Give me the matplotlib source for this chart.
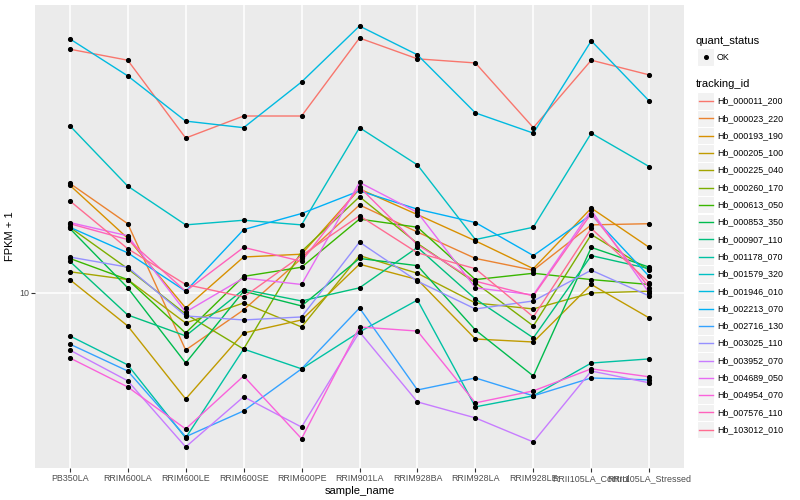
import matplotlib
matplotlib.use('Agg')
import matplotlib.pyplot as plt
from matplotlib.lines import Line2D
from matplotlib.patches import Rectangle
from matplotlib.ticker import NullLocator, FixedLocator, FixedFormatter
import numpy as np

plt.rcParams['font.family'] = ['Liberation Sans', 'DejaVu Sans']

samples = ["PB350LA", "RRIM600LA", "RRIM600LE", "RRIM600SE", "RRIM600PE",
           "RRIM901LA", "RRIM928BA", "RRIM928LA", "RRIM928LE",
           "RRII105LA_Control", "RRII105LA_Stressed"]

tracking_ids = ["Hb_000011_200", "Hb_000023_220", "Hb_000193_190", "Hb_000205_100",
                "Hb_000225_040", "Hb_000260_170", "Hb_000613_050", "Hb_000853_350",
                "Hb_000907_110", "Hb_001178_070", "Hb_001579_320", "Hb_001946_010",
                "Hb_002213_070", "Hb_002716_130", "Hb_003025_110", "Hb_003952_070",
                "Hb_004689_050", "Hb_004954_070", "Hb_007576_110", "Hb_103012_010"]

colors = ["#F8766D", "#EA8331", "#D89000", "#C09B00", "#A3A500", "#7CAE00",
          "#39B600", "#00BB4E", "#00BF7D", "#00C1A3", "#00BFC4", "#00BAE0",
          "#00B0F6", "#35A2FF", "#9590FF", "#C77CFF", "#E76BF3", "#FA62DB",
          "#FF62BC", "#FF6C91"]

# FPKM + 1 per sample (order of `samples`)
Hb_000011_200 = [40.7, 38.2, 24.4, 27.7, 27.7, 43.4, 38.5, 37.6, 25.9, 38.2, 35.1]
Hb_000023_220 = [18.8, 14.9, 7.20, 9.07, 12.2, 16.6, 14.2, 12.2, 11.4, 14.8, 14.9]
Hb_000193_190 = [18.6, 13.7, 9.17, 12.3, 12.5, 18.2, 15.7, 13.5, 11.5, 16.3, 13.0]
Hb_000205_100 = [10.8, 8.27, 5.43, 7.94, 8.56, 11.8, 10.8, 7.67, 7.54, 10.5, 8.66]
Hb_000225_040 = [11.3, 10.8, 8.41, 9.44, 8.22, 12.4, 11.2, 9.44, 9.12, 10.0, 10.1]
Hb_000260_170 = [14.6, 11.5, 8.86, 7.24, 12.7, 17.4, 13.3, 10.6, 8.27, 14.0, 11.4]
Hb_000613_050 = [12.2, 10.8, 7.94, 11.0, 11.6, 15.3, 14.6, 10.8, 11.2, 10.8, 10.5]
Hb_000853_350 = [14.5, 10.3, 6.68, 10.1, 9.28, 12.2, 11.7, 8.08, 6.20, 13.0, 11.6]
Hb_000907_110 = [12.0, 8.81, 7.81, 10.2, 9.55, 10.3, 13.0, 9.66, 7.72, 12.4, 11.5]
Hb_001178_070 = [7.81, 6.61, 4.34, 7.24, 6.46, 7.99, 9.60, 5.19, 5.53, 6.68, 6.84]
Hb_001579_320 = [26.2, 18.5, 14.8, 15.2, 14.8, 25.9, 20.9, 13.6, 14.6, 25.1, 20.7]
Hb_001946_010 = [43.2, 34.9, 26.9, 25.9, 33.7, 46.5, 39.4, 28.2, 25.1, 42.7, 30.2]
Hb_002213_070 = [14.6, 12.6, 10.1, 14.4, 15.8, 18.0, 16.2, 15.0, 12.4, 15.7, 11.0]
Hb_002716_130 = [7.45, 6.38, 4.37, 5.07, 6.46, 9.17, 5.72, 6.13, 5.53, 6.13, 6.06]
Hb_003025_110 = [12.3, 11.6, 8.76, 8.56, 8.71, 13.4, 10.7, 9.12, 9.55, 11.4, 9.83]
Hb_003952_070 = [7.20, 6.03, 4.12, 5.50, 4.62, 7.99, 5.34, 4.87, 4.24, 6.38, 5.96]
Hb_004689_050 = [15.0, 13.9, 8.96, 10.9, 10.5, 18.9, 15.9, 10.3, 9.89, 16.1, 10.0]
Hb_004954_070 = [6.88, 5.82, 4.57, 6.20, 4.32, 8.22, 8.03, 5.31, 5.69, 6.46, 6.17]
Hb_007576_110 = [14.9, 13.6, 10.1, 13.0, 12.0, 18.4, 13.2, 10.7, 9.83, 15.8, 10.3]
Hb_103012_010 = [17.0, 12.9, 10.5, 9.77, 12.4, 15.6, 12.6, 11.5, 8.71, 14.5, 10.6]

series = [Hb_000011_200, Hb_000023_220, Hb_000193_190, Hb_000205_100, Hb_000225_040,
          Hb_000260_170, Hb_000613_050, Hb_000853_350, Hb_000907_110, Hb_001178_070,
          Hb_001579_320, Hb_001946_010, Hb_002213_070, Hb_002716_130, Hb_003025_110,
          Hb_003952_070, Hb_004689_050, Hb_004954_070, Hb_007576_110, Hb_103012_010]

W, H = 800, 500
fig = plt.figure(figsize=(8, 5), dpi=100)
fig.patch.set_facecolor('white')
pl, pr, pt, pb = 35, 684, 5, 468
ax = fig.add_axes([pl / W, 1 - pb / H, (pr - pl) / W, (pb - pt) / H])
ax.set_facecolor('#EBEBEB')
for s in ax.spines.values():
    s.set_visible(False)

x = np.arange(len(samples))
ax.set_yscale('log')
allv = np.array(series)
lo, hi = np.log10(allv.min()), np.log10(allv.max())
pad = (hi - lo) * 0.05
ax.set_ylim(10 ** (lo - pad), 10 ** (hi + pad))
ax.set_xlim(-0.6, len(samples) - 0.4)

ax.yaxis.set_major_locator(FixedLocator([10]))
ax.yaxis.set_major_formatter(FixedFormatter(['10']))
ax.yaxis.set_minor_locator(NullLocator())
ax.set_xticks(x)
ax.set_xticklabels(samples)
ax.grid(True, which='major', color='white', linewidth=1.1, zorder=0)
ax.set_axisbelow(True)
ax.tick_params(axis='both', which='major', length=2.8, width=0.8, color='#333333',
               labelsize=6.4, labelcolor='#4D4D4D', pad=1.5)

for vals, col in zip(series, colors):
    ax.plot(x, vals, color=col, linewidth=1.0, zorder=2, solid_capstyle='butt')
for vals in series:
    ax.plot(x, vals, linestyle='none', marker='o', markersize=2.7,
            color='black', zorder=3)

ax.set_xlabel('sample_name', fontsize=8, labelpad=2)
ax.set_ylabel('FPKM + 1', fontsize=8)
ax.yaxis.set_label_coords(-20 / (pr - pl), 0.5)

# legend (drawn manually, ggplot style)
def fx(px):
    return px / W

def fy(py):
    return 1 - py / H

fig.text(fx(696), fy(41), 'quant_status', fontsize=8, va='center', ha='left')
fig.patches.append(Rectangle((fx(697), fy(65.5)), 17 / W, 17 / H, transform=fig.transFigure,
                             facecolor='#F2F2F2', edgecolor='white', linewidth=0.8))
fig.lines.append(Line2D([fx(705.5)], [fy(57)], transform=fig.transFigure, marker='o',
                        markersize=2.6, color='black', linestyle='none'))
fig.text(fx(717), fy(57), 'OK', fontsize=6.4, va='center', ha='left')

fig.text(fx(696), fy(84), 'tracking_id', fontsize=8, va='center', ha='left')
step = 17.3
for i, (tid, col) in enumerate(zip(tracking_ids, colors)):
    yc = 101 + i * step
    fig.patches.append(Rectangle((fx(697), fy(yc + 8.6)), 17 / W, 17.2 / H,
                                 transform=fig.transFigure, facecolor='#F2F2F2',
                                 edgecolor='white', linewidth=0.8))
    fig.lines.append(Line2D([fx(698.5), fx(712.5)], [fy(yc), fy(yc)],
                            transform=fig.transFigure, color=col, linewidth=1.0))
    fig.text(fx(717), fy(yc), tid, fontsize=6.4, va='center', ha='left')

fig.savefig('out.png', dpi=100)
